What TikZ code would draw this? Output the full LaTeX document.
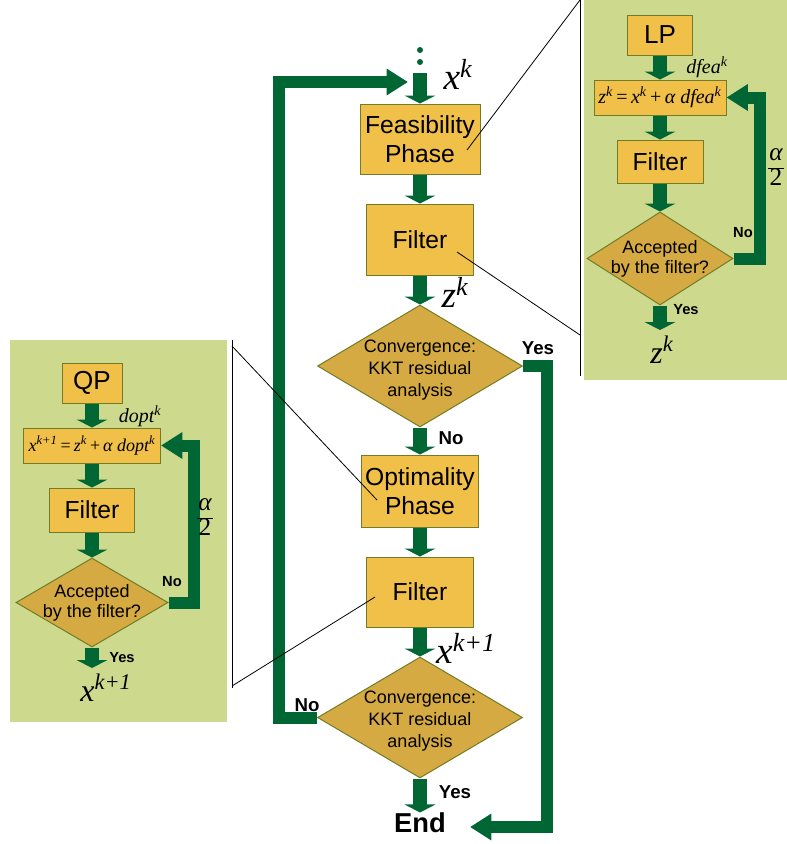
\documentclass[tikz,border=0pt]{standalone}
\usepackage{fontspec}
\setmainfont{Liberation Sans}
\newfontfamily\varfont{Liberation Serif}
\usetikzlibrary{shapes.geometric,arrows.meta}

\definecolor{boxyellow}{RGB}{241,192,72}
\definecolor{diafill}{RGB}{214,170,66}
\definecolor{boxline}{RGB}{112,124,40}
\definecolor{flowgreen}{RGB}{0,102,51}
\definecolor{panelgreen}{RGB}{205,217,140}

\newcommand{\itvar}[2]{{\varfont\itshape #1\textsuperscript{#2}}}
\newcommand{\halfstep}{{\varfont\renewcommand{\arraystretch}{0.9}\setlength{\tabcolsep}{1pt}%
  \begin{tabular}{c}\itshape α\\\hline 2\end{tabular}}}

\tikzset{every picture/.style={line width=0.75pt}}
\tikzset{
  stepbox/.style={draw=boxline, fill=boxyellow, inner sep=0pt, align=center,
    font=\fontsize{18.5}{22}\selectfont},
  smallbox/.style={draw=boxline, fill=boxyellow, inner sep=0pt, align=center,
    font=\fontsize{15}{16}\selectfont},
  testdia/.style={diamond, draw=boxline, fill=diafill, inner sep=0pt},
  diatext/.style={inner sep=0pt, align=center, font=\fontsize{13.5}{16.5}\selectfont},
  acctext/.style={inner sep=0pt, align=center, font=\fontsize{13.5}{14.5}\selectfont},
  answer/.style={inner sep=0pt, font=\fontsize{14}{16}\selectfont\bfseries},
  varlabel/.style={inner sep=0pt, font=\fontsize{28}{30}\selectfont},
  smallvar/.style={inner sep=0pt, font=\fontsize{15}{16}\selectfont},
  flow/.style={draw=flowgreen, line width=11pt, -{Triangle[width=23pt,length=6pt]}},
  loopflow/.style={draw=flowgreen, line width=9pt, -{Triangle[width=19pt,length=16pt]}},
  zoomline/.style={draw=black, line width=0.6pt}
}

\begin{document}
\begin{tikzpicture}[x=0.75pt,y=0.75pt,yscale=-1,xscale=1]
\useasboundingbox (0,0) rectangle (787,844);

%Shape: panels
\fill[panelgreen] (584,0) rectangle (787,380);
\fill[panelgreen] (10,340) rectangle (227,722);

%Main column
\fill[flowgreen] (420,50) circle (3);
\fill[flowgreen] (420,62) circle (3);
\coordinate (top) at (420,73);
\coordinate (entry) at (408,82);
\node[stepbox, minimum width=90pt, minimum height=52.5pt] (feas) at (420,139) {Feasibility\\Phase};
\node[stepbox, minimum width=80.25pt, minimum height=53.25pt] (filt1) at (420,239.5) {Filter};
\node[testdia, minimum width=153.75pt, minimum height=91.5pt] (conv1) at (420,366) {};
\node[diatext] (conv1txt) at (420,370) {Convergence:\\KKT residual\\analysis};
\node[stepbox, minimum width=87.75pt, minimum height=54pt] (opt) at (420,491) {Optimality\\Phase};
\node[stepbox, minimum width=80.25pt, minimum height=52.5pt] (filt2) at (420,592) {Filter};
\node[testdia, minimum width=153.75pt, minimum height=90.75pt] (conv2) at (420,717.5) {};
\node[diatext] (conv2txt) at (420,721) {Convergence:\\KKT residual\\analysis};
\node[inner sep=0pt, font=\fontsize{20.5}{22}\selectfont\bfseries] (endn) at (420,823) {End};
\coordinate (endtip) at (470,827);

\draw[flow] (top) -- (feas);
\draw[flow] (feas) -- (filt1);
\draw[flow] (filt1) -- (conv1);
\draw[flow] (conv1) -- (opt);
\draw[flow] (opt) -- (filt2);
\draw[flow] (filt2) -- (conv2);
\draw[flow] (conv2) -- (endn);
\draw[loopflow] (conv2.west) -- ++(-38,0) |- (entry);
\draw[loopflow] (conv1.east) -- ++(24,0) |- (endtip);

% Text Node
\node[varlabel] (xk) at (458,74) {\itvar{x}{k}};
\node[varlabel] (zk) at (455,292) {\itvar{z}{k}};
\node[varlabel] (xk1) at (466,648) {\itvar{x}{k+1}};
\node[answer] (yes1) at (538,348) {Yes};
\node[answer] (no1) at (451,438) {No};
\node[answer] (no2) at (307,705) {No};
\node[answer] (yes2) at (455,792) {Yes};

%Right panel: feasibility phase
\node[stepbox, font=\fontsize{19.5}{22}\selectfont, minimum width=48.75pt, minimum height=30pt] (lp) at (660,35) {LP};
\node[smallbox, minimum width=99pt, minimum height=26.25pt] (form1) at (660,97.5) {\itvar{z}{k}\,{\varfont=}\,\itvar{x}{k}\,{\varfont+}\,\itvar{α dfea}{k}};
\node[stepbox, minimum width=64.5pt, minimum height=32.25pt] (pfilt1) at (660,161.5) {Filter};
\node[testdia, minimum width=109.5pt, minimum height=69.75pt] (acc1) at (660,258.5) {};
\node[acctext] (acc1txt) at (660,259) {Accepted\\by the filter?};
\coordinate (zkend) at (660,330);
\draw[flow] (lp) -- (form1);
\draw[flow] (form1) -- (pfilt1);
\draw[flow] (pfilt1) -- (acc1);
\draw[flow] (acc1) -- (zkend);
\draw[loopflow] (acc1.east) -- ++(26,0) |- (form1.east);
\node[smallvar] (dfea) at (707,67) {\itvar{dfea}{k}};
\node[inner sep=0pt, font=\fontsize{19}{21}\selectfont] (half1) at (776,168) {\halfstep};
\node[answer, font=\fontsize{11}{13}\selectfont\bfseries] (no3) at (743,233) {No};
\node[answer, font=\fontsize{11}{13}\selectfont\bfseries] (yes3) at (686,310) {Yes};
\node[varlabel, font=\fontsize{24}{26}\selectfont] (zk2) at (662,350) {\itvar{z}{k}};

%Left panel: optimality phase
\node[stepbox, font=\fontsize{19.5}{22}\selectfont, minimum width=45pt, minimum height=30pt] (qp) at (92,383) {QP};
\node[smallbox, font=\fontsize{13.5}{15}\selectfont, minimum width=102.75pt, minimum height=26.25pt] (form2) at (92,445.5) {\itvar{x}{k+1}\,{\varfont=}\,\itvar{z}{k}\,{\varfont+}\,\itvar{α dopt}{k}};
\node[stepbox, minimum width=63.75pt, minimum height=33pt] (pfilt2) at (92,510) {Filter};
\node[testdia, minimum width=114pt, minimum height=66.75pt] (acc2) at (92,602.5) {};
\node[acctext] (acc2txt) at (92,603) {Accepted\\by the filter?};
\coordinate (xkend) at (92,668);
\draw[flow] (qp) -- (form2);
\draw[flow] (form2) -- (pfilt2);
\draw[flow] (pfilt2) -- (acc2);
\draw[flow] (acc2) -- (xkend);
\draw[loopflow] (acc2.east) -- ++(25,0) |- (form2.east);
\node[smallvar] (dopt) at (140,416) {\itvar{dopt}{k}};
\node[inner sep=0pt, font=\fontsize{19}{21}\selectfont] (half2) at (205,518) {\halfstep};
\node[answer, font=\fontsize{11}{13}\selectfont\bfseries] (no4) at (172,582) {No};
\node[answer, font=\fontsize{11}{13}\selectfont\bfseries] (yes4) at (122,658) {Yes};
\node[varlabel, font=\fontsize{24}{26}\selectfont] (xk2) at (106,688) {\itvar{x}{k+1}};

% zoom lines
\coordinate (rtop) at (580,0);
\coordinate (rbot) at (580,376);
\coordinate (rmid) at (580,335);
\coordinate (ltop) at (232,340);
\coordinate (lbot) at (232,688);
\coordinate (lhi) at (232,346);
\coordinate (llo) at (232,686);
\draw[zoomline] (rtop) -- (rbot);
\draw[zoomline] (ltop) -- (lbot);
\draw[zoomline] (467,150) -- (rtop);
\draw[zoomline] (457,252) -- (rmid);
\draw[zoomline] (377,500) -- (lhi);
\draw[zoomline] (375,597) -- (llo);

\end{tikzpicture}
\end{document}
